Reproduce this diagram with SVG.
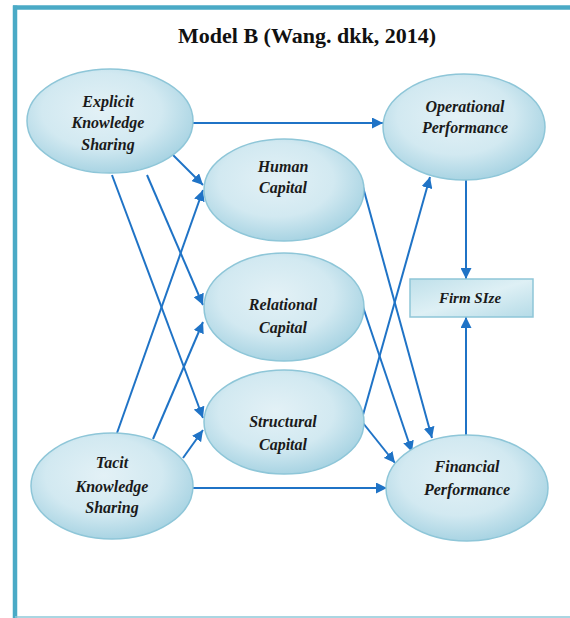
<svg xmlns="http://www.w3.org/2000/svg" width="570" height="618" viewBox="0 0 570 618">
<style>
.node ellipse{fill:url(#eg);stroke:#8ec6d8;stroke-width:1.5}
.node rect{fill:url(#rg);stroke:#8ec6d8;stroke-width:1.5}
.lbl{font-family:"Liberation Serif",serif;font-style:italic;font-weight:bold;font-size:16px;fill:#1a1a1a;text-anchor:middle}
.title{font-family:"Liberation Serif",serif;font-weight:bold;font-size:22px;fill:#111;text-anchor:middle}
.conn line{stroke:#1f73c6;stroke-width:2;marker-end:url(#ah)}
.frame{stroke:#4aaac6;fill:none}
</style>
<defs>
<radialGradient id="eg" cx="0.45" cy="0.4" r="0.6">
<stop offset="0" stop-color="#e3f1f6"/>
<stop offset="0.6" stop-color="#d2e9f1"/>
<stop offset="1" stop-color="#a9d4e3"/>
</radialGradient>
<linearGradient id="rg" x1="0" y1="0" x2="1" y2="1">
<stop offset="0" stop-color="#bfe0ea"/>
<stop offset="0.5" stop-color="#def0f5"/>
<stop offset="1" stop-color="#b5dbe7"/>
</linearGradient>
<marker id="ah" viewBox="0 0 10 10" refX="10" refY="5" markerWidth="11" markerHeight="11" markerUnits="userSpaceOnUse" orient="auto">
<path d="M0,0 L10,5 L0,10 z" fill="#1f73c6"/>
</marker>
</defs>
<rect width="570" height="618" fill="#fff"/>
<line class="frame" x1="13" y1="7.5" x2="570" y2="7.5" stroke-width="4.5"/>
<line class="frame" x1="15" y1="5.5" x2="15" y2="618" stroke-width="4.5"/>
<line x1="15" y1="617" x2="570" y2="617" stroke="#8ec8d8" stroke-width="1.5"/>
<text class="title" x="307" y="43">Model B (Wang. dkk, 2014)</text>
<g class="conn">
<line x1="193" y1="123" x2="383" y2="123"/>
<line x1="173" y1="155" x2="203" y2="185"/>
<line x1="147" y1="175" x2="203" y2="305"/>
<line x1="112" y1="175" x2="203" y2="418"/>
<line x1="117" y1="433" x2="203" y2="190"/>
<line x1="153" y1="439" x2="203" y2="322"/>
<line x1="183" y1="458" x2="203" y2="430"/>
<line x1="193" y1="488" x2="387" y2="488"/>
<line x1="363" y1="187" x2="432" y2="438"/>
<line x1="363" y1="307" x2="412" y2="452"/>
<line x1="363" y1="423" x2="395" y2="463"/>
<line x1="363" y1="415" x2="430" y2="177"/>
<line x1="466" y1="180" x2="466" y2="279"/>
<line x1="466" y1="435" x2="466" y2="317"/>
</g>
<g id="explicit" class="node">
<ellipse cx="110" cy="121" rx="83" ry="52"/>
<text class="lbl" x="108" y="107">Explicit</text>
<text class="lbl" x="108" y="128">Knowledge</text>
<text class="lbl" x="108" y="150">Sharing</text>
</g>
<g id="operational" class="node">
<ellipse cx="464" cy="127" rx="81" ry="53"/>
<text class="lbl" x="465" y="112">Operational</text>
<text class="lbl" x="465" y="133">Performance</text>
</g>
<g id="human" class="node">
<ellipse cx="284" cy="190" rx="80" ry="51"/>
<text class="lbl" x="283" y="172">Human</text>
<text class="lbl" x="283" y="193">Capital</text>
</g>
<g id="relational" class="node">
<ellipse cx="284" cy="307" rx="80" ry="54"/>
<text class="lbl" x="283" y="310">Relational</text>
<text class="lbl" x="283" y="333">Capital</text>
</g>
<g id="structural" class="node">
<ellipse cx="284" cy="422" rx="80" ry="52"/>
<text class="lbl" x="283" y="427">Structural</text>
<text class="lbl" x="283" y="450">Capital</text>
</g>
<g id="firmsize" class="node">
<rect x="410" y="279" width="123" height="38"/>
<text class="lbl" x="470" y="303" style="font-size:15px">Firm SIze</text>
</g>
<g id="tacit" class="node">
<ellipse cx="112" cy="486" rx="81" ry="53"/>
<text class="lbl" x="112" y="468">Tacit</text>
<text class="lbl" x="112" y="492">Knowledge</text>
<text class="lbl" x="112" y="513">Sharing</text>
</g>
<g id="financial" class="node">
<ellipse cx="467" cy="488" rx="81" ry="53"/>
<text class="lbl" x="467" y="472">Financial</text>
<text class="lbl" x="467" y="495">Performance</text>
</g>
</svg>
